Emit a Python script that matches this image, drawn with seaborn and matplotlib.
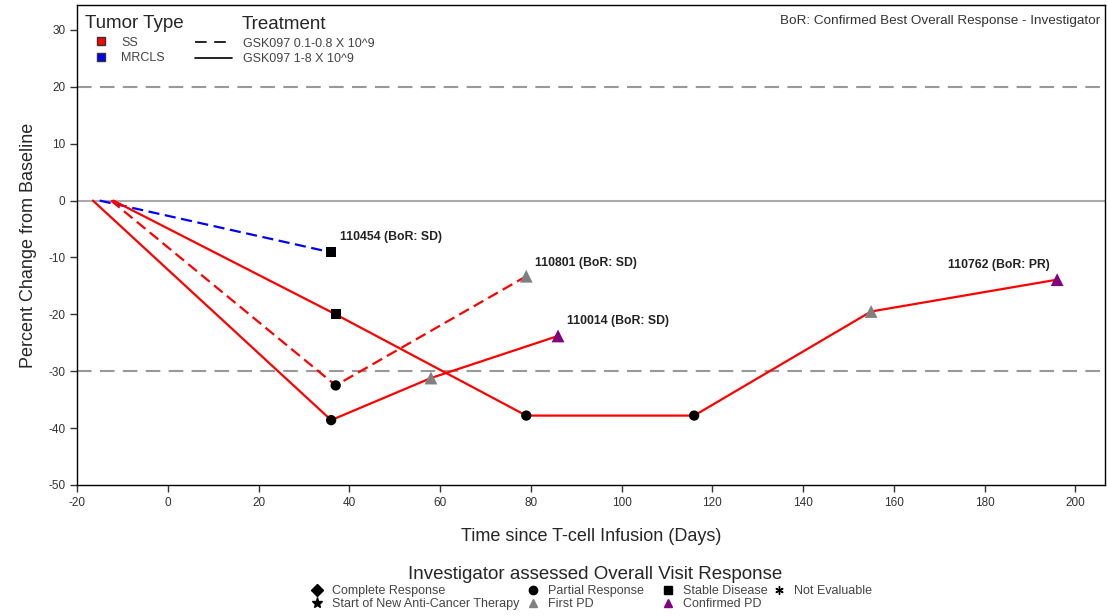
import matplotlib

matplotlib.use("Agg")
import matplotlib.pyplot as plt
import pandas as pd
import seaborn as sns
from matplotlib.lines import Line2D

# Subjects and their visits (day since infusion, percent change, visit response)
subjects = ["110454", "110801", "110014", "110762"]
tumor_types = ["MRCLS", "SS", "SS", "SS"]
treatments = ["GSK097 0.1-0.8 X 10^9", "GSK097 0.1-0.8 X 10^9",
              "GSK097 1-8 X 10^9", "GSK097 1-8 X 10^9"]
bor_labels = ["110454 (BoR: SD)", "110801 (BoR: SD)", "110014 (BoR: SD)", "110762 (BoR: PR)"]

days_110454 = [-15, 36]
pchg_110454 = [0, -9.1]
resp_110454 = [None, "Stable Disease"]

days_110801 = [-12.5, 37, 79]
pchg_110801 = [0, -32.5, -13.3]
resp_110801 = [None, "Partial Response", "First PD"]

days_110014 = [-16.5, 36, 58, 86]
pchg_110014 = [0, -38.6, -31.2, -23.8]
resp_110014 = [None, "Partial Response", "First PD", "Confirmed PD"]

days_110762 = [-12, 37, 79, 116, 155, 196]
pchg_110762 = [0, -20, -37.8, -37.8, -19.5, -13.9]
resp_110762 = [None, "Stable Disease", "Partial Response", "Partial Response",
               "First PD", "Confirmed PD"]

# legend columns of the visit response legend (as laid out in the reference)
response_columns = [
    ["Complete Response", "Start of New Anti-Cancer Therapy"],
    ["Partial Response", "First PD"],
    ["Stable Disease", "Confirmed PD"],
    ["Not Evaluable"],
]
response_markers = {
    "Complete Response": "D",
    "Start of New Anti-Cancer Therapy": "*",
    "Partial Response": "o",
    "First PD": "^",
    "Stable Disease": "s",
    "Confirmed PD": "^",
    "Not Evaluable": (6, 2, 0),
}
response_colors = {
    "Complete Response": "black",
    "Start of New Anti-Cancer Therapy": "black",
    "Partial Response": "black",
    "First PD": "gray",
    "Stable Disease": "black",
    "Confirmed PD": "purple",
    "Not Evaluable": "black",
}
response_sizes = {"Partial Response": 55, "Stable Disease": 50, "First PD": 85, "Confirmed PD": 85}
tumor_colors = {"SS": "red", "MRCLS": "blue"}
treat_dashes = {"GSK097 0.1-0.8 X 10^9": (5, 2.5), "GSK097 1-8 X 10^9": ""}

all_days = [days_110454, days_110801, days_110014, days_110762]
all_pchg = [pchg_110454, pchg_110801, pchg_110014, pchg_110762]
all_resp = [resp_110454, resp_110801, resp_110014, resp_110762]

rows = []
for subj, tt, trt, dd, pp, rr in zip(subjects, tumor_types, treatments, all_days, all_pchg, all_resp):
    for d, p, r in zip(dd, pp, rr):
        rows.append({"subject": subj, "tumor": tt, "treatment": trt,
                     "day": d, "pchg": p, "response": r})
df = pd.DataFrame(rows)

sns.set_style("white")
plt.rcParams["font.family"] = ["Liberation Sans", "DejaVu Sans"]
plt.rcParams["axes.unicode_minus"] = False

fig = plt.figure(figsize=(11.07, 6.16), dpi=100)
ax = fig.add_axes([0.0696, 0.2127, 0.9284, 0.7793])

for yref in [20, -30]:
    ax.axhline(yref, color="#999999", lw=1.5, ls=(0, (7, 4)), zorder=1)
ax.axhline(0, color="#aaaaaa", lw=1.5, zorder=1)

sns.lineplot(data=df, x="day", y="pchg", hue="tumor", style="treatment",
             units="subject", estimator=None, palette=tumor_colors,
             dashes=treat_dashes, lw=1.6, sort=False, legend=False, ax=ax, zorder=2)

pts = df.dropna(subset=["response"])
used = [r for col in response_columns for r in col if r in set(pts["response"])]
sns.scatterplot(data=pts, x="day", y="pchg", hue="response", style="response",
                size="response", sizes={r: response_sizes[r] for r in used},
                markers={r: response_markers[r] for r in used},
                palette={r: response_colors[r] for r in used},
                hue_order=used, style_order=used, size_order=used,
                edgecolor="none", legend=False, ax=ax, zorder=3)

# subject labels at the last visit
label_offsets = [(2, 1.7), (2, 1.3), (2, 1.6), (-24, 1.6)]
for lab, dd, pp, (dx, dy) in zip(bor_labels, all_days, all_pchg, label_offsets):
    ax.text(dd[-1] + dx, pp[-1] + dy, lab, fontsize=8.8, fontweight="bold",
            color="#222222", va="bottom", ha="left")

ax.text(0.9955, 0.979, "BoR: Confirmed Best Overall Response - Investigator",
        transform=ax.transAxes, ha="right", va="top", fontsize=9.7, color="#333333")

ax.set_xlim(-20, 206.5)
ax.set_ylim(-50, 34.4)
ax.set_xticks(range(-20, 201, 20))
ax.set_yticks(range(-50, 31, 10))
ax.tick_params(direction="out", length=5, width=1, labelsize=8.5, colors="#333333",
               left=True, bottom=True)
for sp in ax.spines.values():
    sp.set_color("black")
    sp.set_linewidth(1)
ax.set_xlabel("Time since T-cell Infusion (Days)", fontsize=13, labelpad=14)
ax.set_ylabel("Percent Change from Baseline", fontsize=13, labelpad=8)

# legends inside the plot
tumor_handles = [Line2D([], [], ls="none", marker="s", color=tumor_colors[t],
                        markeredgecolor="#333333", markersize=6, label=t)
                 for t in ["SS", "MRCLS"]]
leg1 = ax.legend(handles=tumor_handles, title="Tumor Type", loc="upper left",
                 bbox_to_anchor=(0.0078, 0.978), borderaxespad=0, borderpad=0,
                 frameon=False, fontsize=9, title_fontsize=13.5, handlelength=2.6,
                 handletextpad=0.3, labelspacing=0.3)
leg1._legend_box.align = "left"
leg1._legend_box.sep = 3
for t in leg1.get_texts():
    t.set_color("#444444")
ax.add_artist(leg1)

treat_handles = [Line2D([], [], color="black", lw=1.2, label=trt) for trt in treat_dashes]
treat_handles[0].set_dashes((7, 4.5))
leg2 = ax.legend(handles=treat_handles, loc="upper left",
                 bbox_to_anchor=(0.1148, 0.932), borderaxespad=0, borderpad=0,
                 frameon=False, fontsize=9, handlelength=2.96, handletextpad=0.88,
                 labelspacing=0.3)
for t in leg2.get_texts():
    t.set_color("#444444")
ax.text(0.1605, 0.9585, "Treatment", transform=ax.transAxes, fontsize=13.5,
        va="center", ha="left")

# visit response legend below the plot, one legend per column
fig.text(0.538, 0.068, "Investigator assessed Overall Visit Response",
         fontsize=13.5, ha="center", va="center")
col_left_px = [309.5, 525.5, 660.5, 771]
for col, xpx in zip(response_columns, col_left_px):
    hs = [Line2D([], [], ls="none", marker=response_markers[r], color=response_colors[r],
                 markersize=8 if r == "Start of New Anti-Cancer Therapy" else 6, label=r)
          for r in col]
    lg = fig.legend(handles=hs, loc="upper left", bbox_to_anchor=(xpx / 1107, 0.0505),
                    borderaxespad=0, borderpad=0, frameon=False, fontsize=9,
                    handlelength=1.2, handletextpad=0.6, labelspacing=0.08)
    for t in lg.get_texts():
        t.set_color("#444444")

fig.savefig("out.png", dpi=100)
